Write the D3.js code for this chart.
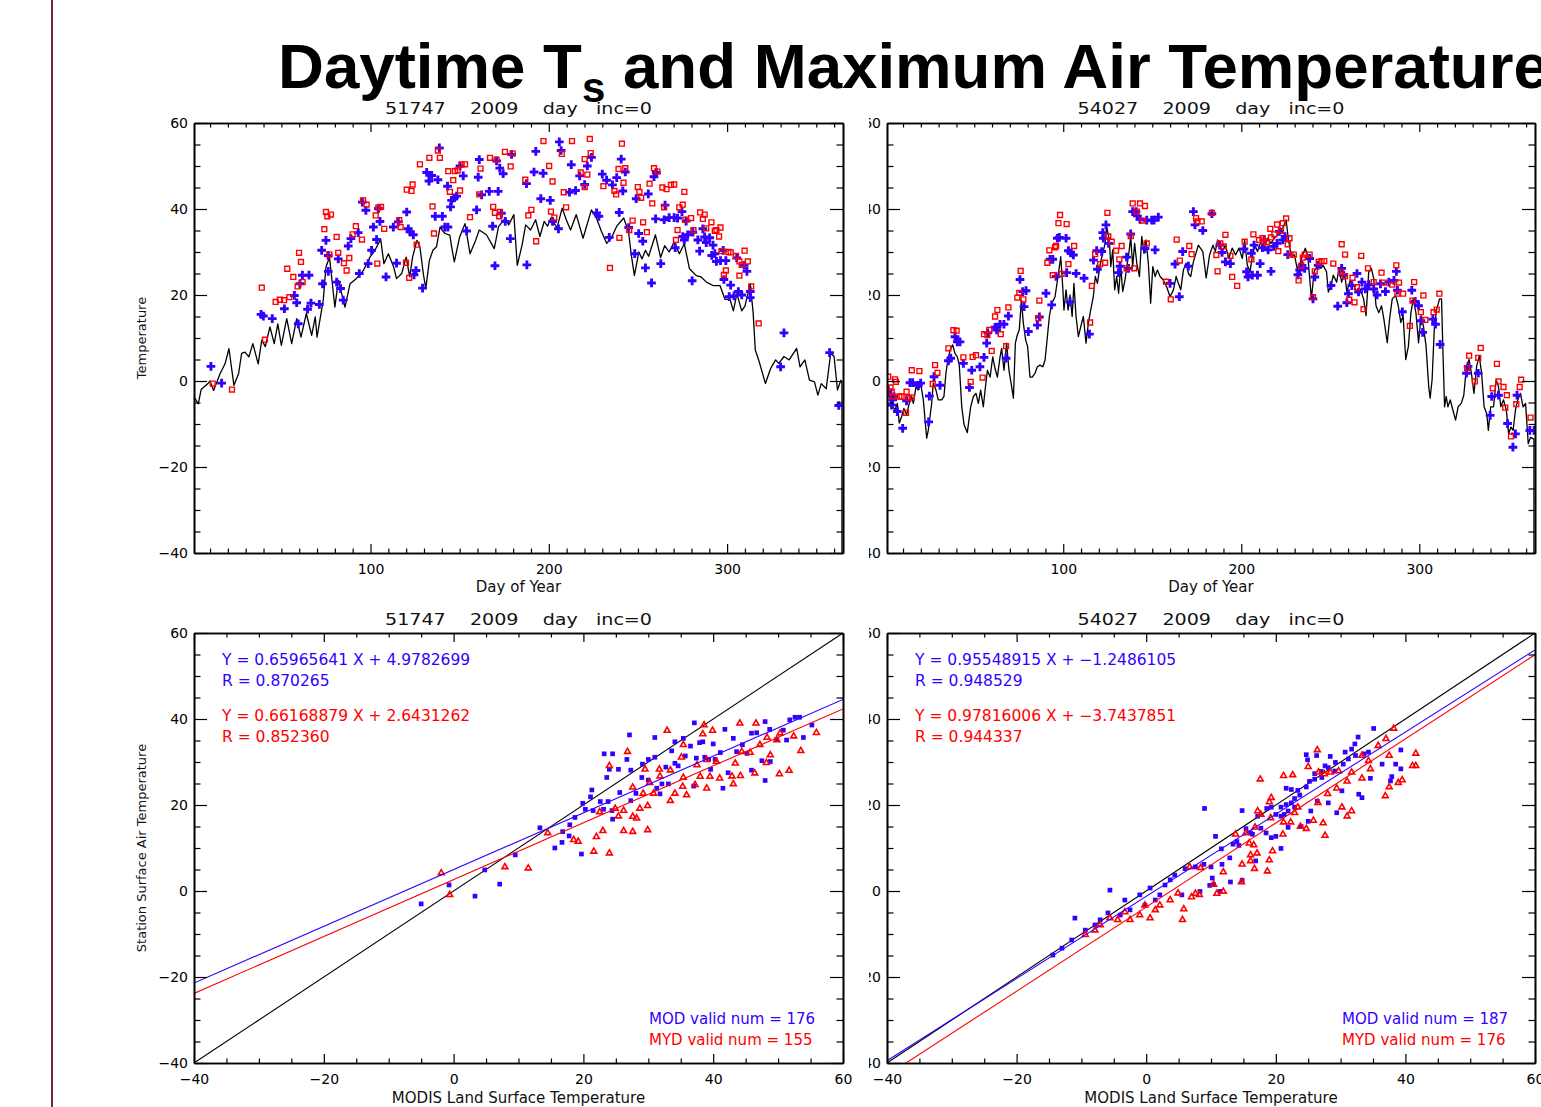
<!DOCTYPE html>
<html>
<head>
<meta charset="utf-8">
<script src="https://cdn.jsdelivr.net/npm/d3@7"></script>
<style>
body { margin: 0; background: #fff; overflow: hidden; }
</style>
</head>
<body>
<script>
// ---- data ----
const stations = ["51747", "54027"];
const year = "2009";
const dayTicks = [100, 200, 300];
const lstTicks = [-40, -20, 0, 20, 40, 60];
const tempTicks = [-40, -20, 0, 20, 40, 60];

// station daily max air temperature, [day, degC]  (-999 = missing)
const stnTmax51747 = [[1,-3.7],[3.4,-5.3],[5,-2],[9,-0.5],[10,0],[12,-2.2],[15.6,1.7],[18.4,4],[20.6,7.5],[23.4,-1],[26,1.7],[27.7,6.4],[29.6,6.7],[31.8,5.6],[34,8.7],[37,4],[39,9.5],[41,8],[43.6,12.6],[46,8.7],[48,13.3],[50,8.3],[53,14.5],[55.8,8.7],[58.6,14.5],[61,10.2],[64,15.7],[67,10.6],[69,14.9],[70,10.2],[73.5,18.8],[75,26.5],[77,28.8],[80,17.2],[82,23.4],[85.7,17.2],[88.5,22.6],[92,23.8],[96,25.7],[99.7,28.8],[102.5,30.4],[105.7,33],[107.5,27.3],[110,29.6],[113,26.5],[114.6,23.8],[117.5,25],[120,28.8],[122,24.2],[123.6,28.8],[126,32.7],[127.7,31.2],[129.6,25],[131,21.5],[133,28],[135,30.4],[137,31.2],[139,35.8],[141.7,34.3],[144.5,33.9],[145.5,31.2],[147,27.7],[150,33.5],[153,36.6],[155.8,29.6],[158.6,32.3],[161,35.1],[165,34],[169.4,30.8],[171.8,35.9],[175.6,37.9],[177.5,36.3],[180.4,38.7],[182.3,26.9],[185,31.6],[187,36.3],[189.8,35.1],[192.6,37.5],[195,33.6],[197.4,37.1],[199.3,36],[201.2,37.9],[204.6,35.6],[207.5,40.2],[209.8,37.5],[212.2,35.1],[215.4,38.7],[219.2,33.2],[223.9,39.8],[226.7,37.9],[229.6,34.7],[232.5,32],[235,33.2],[238.1,36],[242,37.9],[244.7,34.7],[246.3,29.2],[248,24.5],[250.5,30],[252.3,28.4],[254.2,30.4],[256,29],[259.8,34],[262.7,28.7],[265,31.5],[267.5,30],[270.3,32.3],[273.2,29.6],[276,31.9],[278.9,26.1],[282.7,24.5],[285.4,24.2],[288.4,23],[292.1,22.2],[296,22.2],[298.8,19],[301.6,19],[303.5,16.3],[305.5,20.3],[308.2,16.3],[310,17.4],[313,22.6],[314.6,15.9],[315.8,7.2],[317.7,4.9],[321.5,-0.6],[324.4,2.9],[327.2,4.9],[329,4.1],[331.9,5.7],[334.8,4.9],[339,7.6],[340.9,3.3],[343.6,4.9],[346.2,0.2],[349,-0.2],[350.9,-3.3],[352.8,-0.6],[355.6,-1.8],[358.1,6.5],[360,5.7],[361.9,-2.1],[363.8,0.2],[364.4,-0.6],[364.6,-999]];

const stnTmax54027 = [[1,-1.7],[2.7,-4.4],[4.2,-6],[5.5,-6.7],[6.8,-5.2],[7.9,-9.8],[9.2,-8.3],[10.5,-6.4],[12,-7.9],[13.5,-5.2],[14.9,-3.6],[15.8,-5.2],[17.3,-1.3],[18.6,-2.1],[19.9,-0.5],[21.4,-4.4],[23.3,-13.3],[24.2,-11.4],[26.1,-5.2],[27,-0.5],[28.5,-2.1],[29.8,-4.4],[31.7,-4.4],[33,-3.6],[34.1,1.8],[34.9,4.1],[36.4,7.2],[37.9,8.4],[39.2,6.4],[40.5,5.6],[41.6,3.7],[43,-6],[44.3,-10.2],[46.1,-12],[48,-6],[49.5,-3.6],[51,-2.9],[52.3,-5.2],[53.6,-2.1],[55.1,-6],[56.1,-2.1],[57.4,2.5],[58.9,0.9],[60.4,5.6],[61.7,2.9],[63,0.9],[64.5,5.6],[65.4,7.6],[66.7,2.5],[68.2,8.8],[69.5,2.5],[70.7,-0.5],[72,-4],[73.1,8.8],[74.2,10.7],[75.3,11.9],[76.5,18.8],[77.6,13.4],[78.9,9.5],[80,8],[81.3,0.9],[82.6,0.9],[84.1,1.8],[85.5,3.3],[87,3.7],[88.5,3.3],[89.8,4.9],[91.1,10.3],[92.2,15],[93.5,18],[95.4,19.6],[97.3,25],[98.6,28.9],[99.7,21.9],[100.4,16.5],[101.6,21.2],[102.7,16.5],[103.8,20],[105,15],[106,22.7],[107.2,15],[108.5,10.3],[109.8,12.6],[111.3,15],[112.8,8.8],[114.1,13.4],[115.4,16.5],[116.9,19.6],[118,24.3],[119.2,22.7],[120.3,25.8],[121,27.7],[122.2,29.7],[123.5,32],[124.4,35.9],[125.9,32.8],[126.7,26.6],[127.8,30.5],[128.9,21.2],[130,24.3],[131.1,20.4],[132.3,26.6],[133.4,20.8],[134.7,23.5],[136,27.4],[137.1,30.5],[137.9,33.6],[139,26.6],[140.1,32],[141.3,27.4],[142.8,24.3],[144.1,33.6],[145.4,29.7],[146.5,32.8],[147.8,27.4],[149.1,18.1],[150.3,26.6],[151.6,24.3],[152.9,25.8],[154.4,24.3],[156.2,23.5],[158.1,21.9],[160,19.6],[161.9,21.2],[163.4,24.3],[164.7,22.7],[166,21.2],[167.5,25.8],[169,27.4],[170.3,25],[171.6,24.3],[173.1,27.7],[175.9,31.6],[178.4,30.1],[180.3,24],[182.2,29.3],[184.1,31.6],[185.4,30.1],[186.7,32.8],[189.2,30.1],[191.1,31.6],[193,28.5],[194.9,30.9],[196.8,29.3],[198.7,30.9],[200.6,28.5],[201.9,32.8],[203.4,26.9],[204.9,25.4],[206.2,28.9],[207.6,31.6],[209.1,30.1],[211,32.4],[212.9,30.9],[214.8,33.2],[216.7,32],[218.6,33.2],[220.1,34],[221.4,34.8],[223.3,35.6],[225.2,37.5],[226.5,32.8],[228,29.3],[229.9,29.3],[231.4,26.2],[232.8,26.9],[234.1,28.9],[236,30.9],[237.5,28.5],[239.4,19.1],[240.9,25.4],[242.8,26.9],[244.7,26.2],[246,26.9],[247.9,25.4],[248.9,20.7],[250.4,22.2],[251.7,24.6],[253.6,23],[254.9,26.2],[256.4,23],[258,25.4],[259.3,20.7],[261.2,23.4],[263.1,22.2],[265,20.7],[266.8,21.4],[268.7,19.1],[270.1,15.2],[271.6,25.4],[273.1,26.2],[274.4,23.8],[275.7,17.5],[277.3,15.9],[278.8,17.5],[280.1,14.4],[282,8.9],[283.3,14.4],[284.8,19.1],[286.7,19.9],[288.2,17.5],[289.6,13.6],[290.9,15.2],[292.4,5],[293.9,8.1],[295.3,15.9],[296.6,19.1],[298.1,15.9],[299.6,8.9],[301,15.2],[302.3,12.8],[303.8,8.1],[305.3,-1.3],[306.1,-4],[307.2,0.3],[308.5,12.8],[309.8,16.7],[311.4,19.1],[312.5,19.1],[313.2,8.1],[314.2,-6],[315.1,-3.6],[316.1,-6],[317.4,-4.4],[318.9,-6.8],[320.4,-9.1],[321.8,-6],[323.6,-5.2],[325,-3.3],[326.5,3.4],[328,5],[329.3,1.8],[330.7,-2.9],[332.2,3.4],[333.7,5.8],[335,1.8],[336.4,-6],[337.9,-7.6],[338.8,-11.5],[340.1,-6],[341.7,-6],[343.2,0.3],[344.5,-1.3],[345.8,-6],[347.3,-4.4],[348.9,-6.8],[350.2,-12.3],[351.5,-10.7],[352.7,-11.5],[354,-6.8],[355.3,-4.4],[356.8,-2.9],[358.3,-6],[359.7,-5.2],[361.2,-14.6],[362.5,-13.1],[364.4,-13.5],[364.6,-999]];

// MODIS Terra (MOD) and Aqua (MYD) daytime Ts, [day, degC]
const modTs51747 = [[10.5,3.4],[16.5,-0.5],[38.6,15.5],[39.9,15.1],[44.9,14.5],[51.7,16.8],[57.3,19.9],[58.6,18.2],[59.5,13.3],[60.4,22.6],[61.8,24.6],[65.5,24.6],[64.7,16.7],[66.6,18.1],[71.3,17.8],[73.1,22.6],[75,32.7],[76.3,25.5],[72.6,30.4],[76.3,29.2],[81,23],[81.9,28.4],[83.2,21.5],[84.7,18.8],[87.5,31.4],[89,33.1],[93.1,34.5],[93.7,25],[95.4,41.6],[97.4,39.7],[98.7,27.3],[100.6,30.4],[101.6,35.8],[103.4,32.9],[104.4,40.1],[105.3,37.1],[108.7,24.2],[112.8,35.8],[114.6,27.4],[115.6,37],[120.3,39.3],[121.2,35.4],[122.1,34.7],[124.4,24.7],[124,34],[125.5,25.7],[129.2,21.6],[131.5,48.5],[132.8,46.5],[134.3,47.8],[136.3,38.3],[137.8,46.8],[138.6,54.2],[140.3,38.3],[141.7,35.8],[143.4,35.8],[143.2,45.3],[144.9,40.5],[145.5,42],[147,42.6],[148.3,43],[150.2,50],[152,47.7],[153.9,34.9],[159.5,39.8],[160.4,47.4],[161,51.5],[162.3,43.3],[166.6,44.1],[168.5,36],[169.8,26.8],[170.7,51.2],[171.6,44.1],[172.5,49.5],[173.4,39],[174.4,48.2],[175.6,37.1],[178.4,33.1],[179.1,52.7],[187.7,27],[187.5,45.9],[192.7,53.4],[191.7,48.6],[196.8,48.3],[195.5,42.4],[200.8,42],[205.9,55.6],[206.9,53.6],[205.4,35.4],[202.1,37.1],[212.6,50.3],[211.6,43.9],[215,44.3],[217.3,47.7],[220.1,45.7],[221.6,50],[223.9,52],[226.8,39.1],[228.1,38.3],[230,48.1],[232.4,46.7],[233.9,33.4],[235.7,45.6],[238.1,47.3],[239.5,39.2],[240.6,51.6],[241.5,44.2],[242.9,48.6],[244.8,35.7],[248.2,29.6],[249,42.4],[250.4,34.3],[252.7,32.5],[254.2,26.3],[255.8,43.5],[257.6,22.8],[259,47.5],[259.9,37.7],[260.3,48.5],[262.8,27.3],[264.7,37.5],[265.2,40.9],[267.5,38],[270.3,38],[270.9,31],[272.2,37.9],[274.7,39.4],[276,32.8],[275.1,33.6],[277,37.2],[277.9,34],[280.4,23.3],[280.8,34.6],[283.6,32.8],[284.6,30.2],[286.4,35.4],[287.4,33.5],[288.3,32.2],[290.2,33.3],[291.4,29.2],[292.1,31.6],[294,27.8],[293.1,29.6],[296.3,28],[297.8,30.4],[298.2,23.6],[299.3,28],[301.2,19.6],[302,22.3],[303.9,19.8],[305.4,28.6],[306.3,20.8],[308.2,20],[309.6,26.9],[311.1,25.5],[313,20.8],[313,19.4],[331.9,11.2],[330,3.3],[357.5,6.6],[362.6,-5.7]];

const mydTs51747 = [[11.5,-0.6],[22.3,-2],[39,21.7],[40.8,9.6],[46.8,18.4],[49.2,18.9],[51.5,18.8],[53.3,26.1],[54.5,19.5],[56.7,24.2],[59.1,22],[59.9,29.8],[61,27.7],[61.9,23],[74.1,35.3],[75,39.3],[75.8,38.3],[77.8,38.7],[76.9,29.4],[81,33.5],[81.9,29.8],[85.1,27.4],[86.6,25.7],[88.1,28.6],[90,34.1],[91.8,36],[95.2,32.9],[95.8,42],[97.8,41],[102.9,38.5],[103.8,27.3],[104.4,40.3],[105.9,40.5],[107.7,35.4],[116.1,37.4],[116.9,35.8],[119.9,27.5],[121.7,24],[120.3,44.5],[123,44.2],[123.6,45.7],[125.9,31.7],[127.7,50.4],[133,51.9],[134.8,40.6],[135.6,34.3],[137.8,53.6],[138.9,51.9],[143.6,48.8],[144.5,44],[146.4,46.7],[147.4,48.8],[148.9,49],[150.2,44.3],[151.1,50.4],[153,50.4],[155.8,38.1],[161,43.4],[161.7,49.4],[167,51.9],[168.8,40.5],[169.8,39.1],[170.7,51.5],[172.2,38.3],[172.6,39.3],[175.4,53.3],[178.6,49.9],[179.7,52.9],[186.8,46.8],[188.5,38.5],[197,55.8],[200.2,50],[202.1,46.4],[190.2,39.8],[192.9,32.5],[201.2,39.4],[203.1,38],[207.3,52.8],[208.4,43.9],[209.7,40.4],[213,55.8],[217.9,48.5],[220.1,51.6],[221.6,48],[223,56.3],[223.5,53],[220.1,45.1],[230.6,45.3],[234.3,26.3],[236.8,44.2],[237.8,43.4],[239.1,49.3],[239.6,33.3],[241,55.2],[241.9,46.1],[242.9,49.5],[245.1,35.1],[247,37.3],[249.9,45.1],[250.8,44],[251.8,42.6],[252.9,36.9],[255,34.6],[256.5,45.9],[258,41.3],[259,49.5],[260.9,48.7],[263.7,45],[264.7,40.4],[266,44.6],[268.5,45.6],[270.3,45.7],[271.3,32.8],[272.2,35.1],[273.2,40.4],[275.1,41],[276,44],[276.6,37.5],[279.8,37.9],[281.1,35.1],[284.9,39.2],[286.4,37.7],[287.4,38.7],[288.3,35.5],[291.2,36.9],[293.1,34.9],[294,35.1],[296.3,35.7],[295.5,33.6],[296.9,30.2],[298.2,24.7],[299.3,25.7],[300.7,30],[302,29.9],[305,29.1],[306.9,27.8],[308.2,27],[309.8,30.3],[311.6,27.8],[306.9,24.5],[313.5,22],[317.7,13.4]];

const modTs54027 = [[1.7,-2.1],[3,-3.3],[4.2,-4.4],[3.6,-5.6],[4.9,-3.6],[6.8,-7.1],[9.8,-11],[12,-4.6],[13.9,-0.4],[15.4,-0.4],[18.6,-1],[19.9,-0.5],[24.4,-9.5],[24.8,-3.5],[27.4,1],[30.8,-1],[35.5,4.7],[36.8,5.3],[39.2,10.3],[40.5,9.1],[42,9.1],[43.9,4.1],[47.3,-1.5],[48.6,2.5],[53.2,3.3],[55.5,5.5],[57,8.8],[57.6,11.2],[61.7,12.5],[62.6,11.9],[64.5,13.2],[66.7,13.2],[67.9,5.3],[69.2,15.1],[75.7,23.6],[77.2,20.8],[78,17.3],[79.1,21],[80.4,11.5],[85.5,13],[86.6,14.9],[90.3,20.4],[92.6,28.3],[94.1,28.3],[93.5,17.7],[96,24.3],[96.7,33.2],[97.8,33.4],[101.6,33.2],[101.9,25.2],[103.8,18.4],[102.9,30.3],[104.2,29.8],[105.7,29.3],[107.2,25],[111.7,23.9],[114.7,10.9],[117,28.1],[119.2,26],[118.8,30.3],[121.6,30.1],[122.2,34.5],[122.5,33.2],[124,36.3],[125.5,32],[131,25.2],[131.9,26.7],[135.6,28.8],[136.7,26.2],[137.9,34.2],[139,39.4],[140.9,39.4],[141.6,38.4],[143.1,37.6],[145.9,30.8],[146.9,37.4],[149.7,37.4],[151,37.4],[153.4,38.1],[151.6,30.5],[160,22.7],[162.8,27.2],[165.2,19.6],[167.1,30.1],[170.3,26.7],[173.1,39.4],[174,36.3],[178.4,35],[189.2,29.9],[187.9,31.6],[183.5,38.9],[191.1,27.7],[193.9,27.3],[201.5,30.7],[203,25.4],[203.8,24.2],[206.2,24.6],[209.1,24.6],[205.7,29.7],[207.2,31.6],[210.6,27.3],[211.9,31],[212.9,32.8],[215.1,30.5],[216.7,25.5],[218.2,31.3],[220.1,32],[221.4,34.8],[223.3,32.8],[224.6,33.6],[226.1,29.4],[231.8,24.7],[232.8,25.8],[234.1,26.9],[235.6,26.2],[238.4,28.5],[240.3,19.1],[241.3,24.2],[243.2,26.9],[250.4,22.2],[254.2,17.4],[256.4,26.2],[257.4,24.6],[259.3,18.2],[260.2,20.3],[262.1,22.2],[265,25],[265.9,20.7],[267.8,23],[269.7,21.4],[271.6,22.4],[274.4,21.4],[276.3,20],[278.2,22.6],[281,20.8],[282.9,23],[285.8,23.4],[287.1,25.5],[287.7,21.1],[290.5,16.1],[295.8,21.1],[297.7,18.5],[299.6,17.5],[300.9,14],[301.9,11.3],[307.6,14.4],[309.1,13.2],[311.7,8.5],[326.5,1.8],[327.4,3.4],[333.1,1.8],[339.8,-8],[340.7,-3.6],[344.5,-3.3],[349.6,-9.9],[352.6,-15.4],[354,-12.3],[354.9,-3.3],[362.1,-11.5],[364.5,-11.5]];

const mydTs54027 = [[1.7,1],[3,-1.5],[3.6,-2.5],[4.2,-3.6],[5.5,0.4],[6,-0.2],[7.9,-3.6],[9.2,-3.6],[12,-2.5],[13,-4],[14.9,-3.8],[11.7,-7.4],[14.9,2.5],[19.2,2.3],[26.7,-0.7],[28,3.7],[29.3,1.9],[35.5,7.6],[38.3,11.8],[40.1,11.7],[43.9,5.5],[49.1,5.6],[51,6],[48,-0.2],[54.7,0.8],[55.5,10.9],[57.4,10.7],[58.5,11.9],[59.8,7],[61.7,15],[63,16.5],[64.9,10.9],[67.9,8.1],[69.2,17.1],[74.2,19.4],[75.3,20.5],[76.1,25.6],[77.6,19],[86.6,18.7],[86,14.6],[91.1,27.5],[92.2,30.4],[94.1,24.6],[95.4,31.1],[96,31.4],[97.3,36.7],[98.2,38.6],[99.1,24.9],[101.9,36.5],[102.9,27.2],[106.1,31.4],[115.1,13.6],[116.1,22.1],[117.9,29.5],[120.7,27.2],[123.5,27.5],[124.8,39.1],[125.3,33.6],[127.2,32.4],[129.7,30.3],[131.5,28.3],[132.8,31.4],[135.6,26.2],[137.9,33.7],[139,41.3],[139.8,26.2],[141.3,39.4],[143.1,41.3],[144.6,37.3],[145.9,40.7],[146.9,32],[157.7,23.1],[160.4,19],[163.7,32.9],[165.5,28],[170.8,31.4],[172.1,29.5],[174.6,37.9],[175.4,37.1],[177.8,37.1],[183.5,39.1],[186,29.3],[186.7,25.5],[188.2,32],[190.1,31.3],[191.1,34],[193.9,29.1],[194.9,24.2],[197.7,22.1],[201.9,32.4],[205.7,28.3],[206.8,34.1],[210,32.8],[211.9,33.2],[212.5,32.4],[214.4,32.3],[216.3,35.4],[216.7,33.4],[218.6,34.1],[220.1,36.4],[220.8,30.2],[222.3,34.9],[223.3,36.7],[225.2,37.8],[226.1,31.8],[227.1,33.2],[227.6,29.4],[229.5,29.4],[232.2,23.4],[233.7,26.8],[234.6,28.7],[235.6,29.4],[238.4,29.4],[240.3,19.5],[241.3,25.5],[243.5,27.7],[245.1,27.9],[246.6,27.9],[251.7,27.3],[256.4,31.8],[258.3,29.4],[267.4,29.1],[256,25.4],[258.3,24.4],[260.6,18.9],[263.6,18.3],[262.5,24],[265,21.8],[268.7,16.7],[271.2,26.2],[274.4,23],[278.8,25.2],[280.1,22.9],[284.8,22.4],[287.1,26.9],[288.6,22.9],[290.9,20.3],[287.7,20.3],[294.7,12.8],[296.2,18.7],[297.1,23],[300.9,16],[302.3,19.9],[303.4,14.2],[308,16],[309.8,16.6],[311.3,20.3],[328,5.9],[326.9,3],[331.2,-0.1],[333.1,5.4],[334.5,7.7],[341.3,-1.7],[343.6,4],[344.5,-0.1],[347.3,-1.4],[348.3,-6.2],[349.2,-3.3],[351.5,-12.9],[354.5,-5.4],[356.4,-1.4],[357.2,0.3],[362.5,-8.5]];

// scatter pairs: [MODIS LST, station air temperature]
const modPairs51747 = [[37.1,39.1],[27.1,36.3],[23.2,31.9],[24.5,31.9],[26.7,30.6],[27.3,28.1],[25.4,28.3],[24,28.3],[23.6,26.4],[21.3,23.5],[21.1,21.9],[22.6,20.8],[23.8,20.8],[24.4,18.7],[24.5,16.7],[23.1,19],[21.5,18.7],[20.3,19],[19.9,20.4],[18.7,17.1],[17.9,15.4],[16.8,13.8],[16.7,11.3],[17.8,12.8],[19.7,8.6],[25.6,22.9],[27.3,21],[28.1,22.7],[29.1,29.5],[30,30.6],[29,26.4],[30,25.8],[31,31.1],[31.3,23.9],[31.8,22.6],[32.1,24.9],[32.7,28.8],[33.1,24.9],[33.6,32.6],[34.1,29.7],[34.6,29.1],[35.4,35.5],[35.7,31.4],[36.5,33.7],[37,24.4],[37.4,30.9],[37.9,34.5],[38.4,34.7],[38.7,31.1],[39.3,30.6],[39.6,28.3],[40.3,30.6],[41.1,32.2],[41.5,23.9],[41.8,37.6],[42.3,27.5],[43.1,35.5],[43.6,32.4],[44.5,34],[45.2,32],[45.9,28.1],[45.9,36.7],[46.7,36.8],[47.5,30.3],[48,39.4],[48,25.7],[48.8,30.1],[48.7,37.6],[49.8,35.3],[50.8,37.4],[51.3,35.1],[51.8,39.8],[52.6,40.4],[53.3,40.4],[53.9,35.7],[55.2,38.6],[40,34.2],[34.1,34.7],[31,35.7],[-5,-3],[-0.7,1.4],[3.3,-1.2],[4.8,4.9],[7.1,1.6],[9.5,8.4],[13.3,14.7],[15.6,10]];

const mydPairs51747 = [[38.6,38.6],[44.1,39],[46.6,39],[32.9,37.3],[39.9,37.3],[38.4,36.5],[35.4,34],[26.8,32.4],[24,29.1],[29.5,28.3],[31.7,28.3],[33.4,28.1],[35.1,31.1],[37.5,29.3],[39,30.5],[40.5,30.1],[43.4,29.7],[44.4,32.4],[45.7,32.2],[47.2,34],[48.3,35.7],[49.8,35.1],[50.3,36.7],[52.4,36],[55.9,36.8],[53.5,32.6],[51.7,28],[50.2,27.2],[48.8,31.6],[46.4,27.4],[44.2,26.8],[42.9,26.7],[41,26.2],[39.5,26.6],[38,26.6],[39,23.9],[37.2,24.7],[35.3,24.3],[35.9,22.3],[34.1,22.7],[33.4,21],[35.4,26.4],[31.8,26.7],[30.2,25.2],[27.6,24.1],[29.2,22.7],[30.8,22.7],[29.9,19.8],[28.7,19.2],[28.2,16.9],[27.6,17.3],[26.2,18.7],[25.4,17.4],[24.9,19.2],[23,14],[22,12.6],[26.2,14],[27.6,13.8],[29.9,14.2],[24,8.8],[21.6,9.2],[19.2,11.5],[18.5,11.9],[22.5,18.4],[43.1,24.9],[48.2,29.8],[-1.9,4.2],[-0.6,-0.9],[7.9,5.6],[11.5,5.3],[14.5,13.5]];

const modPairs54027 = [[35.1,37.8],[32.7,35.8],[32.2,34.2],[31.7,33],[30.7,32.3],[31.2,30.7],[32.3,31.5],[33.6,31.9],[34.3,32.3],[24.7,31.7],[24.9,30.5],[26.3,31.5],[28.4,31.3],[29.2,29.9],[30.4,29.5],[27.6,29.1],[28.1,28.7],[29.1,27.9],[27,27.8],[26,27.3],[27.1,26.4],[26,26],[25.2,25.5],[24.7,24.2],[23.4,23.4],[23.7,22.3],[22.9,21.5],[22.4,20.5],[21.6,20.1],[20.8,19.5],[21.3,17.8],[21.9,18.6],[22.9,19.5],[22.4,23.6],[21.6,23.9],[30.2,23.3],[32.8,22.5],[33.3,21.7],[34.6,26.2],[36.4,29.5],[37.9,26.6],[37.7,25.6],[38.5,29.5],[39.3,32.8],[39.3,28.4],[28.1,20.5],[29.4,18.2],[26.4,20.9],[25.4,18.6],[23.9,15],[25,16.2],[21.9,14.8],[20.8,17.4],[20,17.8],[19.3,19.5],[18.6,19.2],[17.2,17.4],[17.7,14.6],[18.5,13.5],[19.3,12.4],[20,12.7],[20.8,9.9],[16.9,7],[16.1,13.5],[15.4,14.5],[14.8,18.7],[9,19.2],[14,11.5],[13.4,10.9],[14.3,10.6],[12.9,7.7],[11.7,6.2],[11.6,9.8],[10.7,12.7],[10.2,3],[10.4,1.5],[9.8,1.3],[11.4,-0.1],[13,2.1],[14.8,2.5],[10,5.6],[8.9,6.2],[7.6,5.6],[6,5.2],[8.3,-0.1],[5.5,-0.9],[16.4,13.2],[-5.6,0.2],[-11,-6.3],[-11.5,-11.4],[-14.4,-14.9],[-13,-13.3],[-9.4,-9.1],[-7.9,-7.9],[-7.1,-6.7],[-5.9,-5.1],[-4,-5.6],[-3.3,-2.1],[-2.5,-4.4],[-1,-0.9],[-0.2,-3.3],[0.6,0.7],[1.4,-2.1],[2.1,-0.9],[2.9,1.4],[3.7,2.6],[4.4,3.7]];

const mydPairs54027 = [[38.2,37.8],[41.6,32],[41.1,29.1],[41.6,29.1],[39.5,25.8],[38.9,25.2],[37.5,24.2],[36.9,22.1],[34.6,28.4],[34.3,30.3],[33.3,31.5],[35.8,33.8],[37,35.4],[37.5,31.5],[26.4,32.8],[25,28.9],[26.6,27.6],[27.5,27.2],[28.4,27.6],[29.7,27.9],[31.7,27.6],[33.3,26.2],[31,25.5],[29.4,23.9],[28,22.6],[30.2,19.5],[31,17.4],[31.7,18.6],[26.5,20.5],[25.8,16.4],[24.7,14.5],[23.8,15],[22.9,18.2],[23.4,19.5],[22.6,27],[21.2,26.8],[19.3,21.7],[19,20.7],[17.2,18.6],[17.7,17.8],[22.3,16],[21.2,16],[19.2,17],[16.8,14.8],[15.4,13.5],[13.8,13.2],[15.9,11.1],[16.6,10.7],[17.1,8.8],[16.1,8.4],[16.1,7],[19,7.2],[19.5,9.3],[21.1,13.2],[27.6,12.9],[27.3,15.8],[14.8,6.2],[16.7,5.2],[18.7,4.6],[14.7,2.1],[11.9,4.4],[10.4,1.5],[11.9,-0.1],[10.9,-0.6],[8.4,5.4],[6.7,5.6],[7.6,-0.6],[8.2,-0.9],[7,-1.4],[5.8,-4.2],[5.6,-6.7],[17.6,26],[-9.4,-10.2],[-7.9,-9.1],[-7.1,-7.9],[-5.6,-6.3],[-4.4,-6.7],[-3.3,-4.9],[-2.5,-6.7],[-1,-5.6],[-0.2,-3.3],[0.6,-6.3],[1.4,-4.4],[2.1,-3.3],[3.7,-2.1],[4.9,-0.5]];

// linear fits: [slope, intercept], correlation and valid counts
const modFit = [[0.65965641, 4.9782699], [0.95548915, -1.2486105]];
const mydFit = [[0.66168879, 2.6431262], [0.97816006, -3.7437851]];
const modR = ["0.870265", "0.948529"];
const mydR = ["0.852360", "0.944337"];
const modNum = [176, 187];
const mydNum = [155, 176];

// ---- drawing ----
const W = 1541, H = 1107;
const BLUE = "#3300ff", RED = "#ff0000";
const FONT = "DejaVu Sans, sans-serif";

const svg = d3.select("body").append("svg")
    .attr("width", W)
    .attr("height", H)
    .style("display", "block");

const defs = svg.append("defs");

// left slide rule
svg.append("line")
    .attr("x1", 52).attr("x2", 52)
    .attr("y1", 0).attr("y2", H)
    .attr("stroke", "#7a1f45")
    .attr("stroke-width", 2);

// slide title
const title = svg.append("text")
    .attr("x", 278)
    .attr("y", 88)
    .attr("font-family", "Liberation Sans, Arial, sans-serif")
    .attr("font-weight", "bold")
    .attr("font-size", 63.6)
    .attr("fill", "#000");
title.append("tspan").text("Daytime T");
title.append("tspan").attr("font-size", 42).attr("dy", 14).text("s");
title.append("tspan").attr("dy", -14).text(" and Maximum Air Temperature");

const boxes = [
    {x0: 194, x1: 843, y0: 123, y1: 553},   // top left
    {x0: 887, x1: 1535, y0: 123, y1: 553},  // top right
    {x0: 194, x1: 843, y0: 633, y1: 1063},  // bottom left
    {x0: 887, x1: 1535, y0: 633, y1: 1063}  // bottom right
];

function makeClip(id, x, y, w, h) {
    defs.append("clipPath").attr("id", id)
        .append("rect").attr("x", x).attr("y", y).attr("width", w).attr("height", h);
    return "url(#" + id + ")";
}

// IDL-style box: inward ticks on all four sides, labels on left and bottom
function frame(g, x, y, b, xMajor, xMinor, yMajor, yMinor) {
    const specs = [
        [d3.axisBottom(x).tickValues(xMajor).tickSize(-9).tickPadding(11), 0, b.y1],
        [d3.axisBottom(x).tickValues(xMinor).tickSize(-4.5).tickFormat(""), 0, b.y1],
        [d3.axisTop(x).tickValues(xMajor).tickSize(-9).tickFormat(""), 0, b.y0],
        [d3.axisTop(x).tickValues(xMinor).tickSize(-4.5).tickFormat(""), 0, b.y0],
        [d3.axisLeft(y).tickValues(yMajor).tickSize(-13).tickPadding(6), b.x0, 0],
        [d3.axisLeft(y).tickValues(yMinor).tickSize(-6.5).tickFormat(""), b.x0, 0],
        [d3.axisRight(y).tickValues(yMajor).tickSize(-13).tickFormat(""), b.x1, 0],
        [d3.axisRight(y).tickValues(yMinor).tickSize(-6.5).tickFormat(""), b.x1, 0]
    ];
    specs.forEach(([axis, tx, ty]) => {
        const a = g.append("g")
            .attr("transform", "translate(" + tx + "," + ty + ")")
            .call(axis.tickSizeOuter(0))
            .attr("font-family", FONT)
            .attr("font-size", 14);
        a.select(".domain").attr("stroke", "#000").attr("stroke-width", 1.6);
        a.selectAll(".tick line").attr("stroke", "#000").attr("stroke-width", 1.2);
        a.selectAll(".tick text").attr("fill", "#000");
    });
}

function panelTitle(g, b, i, baseline) {
    g.append("text")
        .attr("x", (b.x0 + b.x1) / 2)
        .attr("y", baseline)
        .attr("text-anchor", "middle")
        .attr("font-family", FONT)
        .attr("font-size", 16)
        .attr("fill", "#111")
        .attr("textLength", 267)
        .attr("lengthAdjust", "spacingAndGlyphs")
        .style("white-space", "pre")
        .text(stations[i] + "    " + year + "    day   inc=0");
}

function axisTitle(g, x, y, txt, size, rotate) {
    const t = g.append("text")
        .attr("font-family", FONT)
        .attr("font-size", size)
        .attr("fill", "#111")
        .attr("text-anchor", "middle")
        .text(txt);
    if (rotate) t.attr("transform", "translate(" + x + "," + y + ") rotate(-90)");
    else t.attr("x", x).attr("y", y);
}

const crossSym = d3.symbol().type(d3.symbolCross).size(42)();
const squareSym = d3.symbol().type(d3.symbolSquare).size(24)();
const boxSym = d3.symbol().type(d3.symbolSquare).size(22)();
const triSym = d3.symbol().type(d3.symbolTriangle).size(15)();

function marks(g, data, x, y, path, fill, stroke, sw) {
    g.selectAll(null)
        .data(data)
        .enter()
        .append("path")
        .attr("d", path)
        .attr("transform", d => "translate(" + x(d[0]) + "," + y(d[1]) + ")")
        .attr("fill", fill)
        .attr("stroke", stroke)
        .attr("stroke-width", sw);
}

const stnSeries = [stnTmax51747, stnTmax54027];
const modSeries = [modTs51747, modTs54027];
const mydSeries = [mydTs51747, mydTs54027];
const modPairSeries = [modPairs51747, modPairs54027];
const mydPairSeries = [mydPairs51747, mydPairs54027];

const tempMinor = d3.range(-40, 61, 5).filter(v => !tempTicks.includes(v));

[0, 1].forEach(i => {
    // ---------- time series panel ----------
    const b = boxes[i];
    const g = svg.append("g");
    if (i === 1) g.attr("clip-path", makeClip("cutR" + i, 869, 0, W - 869, H));

    const x = d3.scaleLinear().domain([1, 365]).range([b.x0, b.x1]);
    const y = d3.scaleLinear().domain([-40, 60]).range([b.y1, b.y0]);

    const data = g.append("g")
        .attr("clip-path", makeClip("plotT" + i, b.x0, b.y0, b.x1 - b.x0, b.y1 - b.y0));

    const line = d3.line().x(d => x(d[0])).y(d => y(d[1]));
    data.append("path")
        .datum(stnSeries[i])
        .attr("d", line)
        .attr("fill", "none")
        .attr("stroke", "#000")
        .attr("stroke-width", 1.3)
        .attr("stroke-linejoin", "round");

    marks(data, modSeries[i], x, y, crossSym, BLUE, "none", 0);
    marks(data, mydSeries[i], x, y, squareSym, "none", RED, 1.4);

    const dayMinor = d3.range(10, 365, 10).filter(v => !dayTicks.includes(v));
    frame(g, x, y, b, dayTicks, dayMinor, tempTicks, tempMinor);
    panelTitle(g, b, i, 114);
    axisTitle(g, (b.x0 + b.x1) / 2, 592, "Day of Year", 15, false);
    if (i === 0) axisTitle(g, 146, (b.y0 + b.y1) / 2, "Temperature", 13, true);

    // ---------- scatter panel ----------
    const s = boxes[i + 2];
    const h = svg.append("g");
    if (i === 1) h.attr("clip-path", makeClip("cutS" + i, 869, 0, W - 869, H));

    const sx = d3.scaleLinear().domain([-40, 60]).range([s.x0, s.x1]);
    const sy = d3.scaleLinear().domain([-40, 60]).range([s.y1, s.y0]);

    const sd = h.append("g")
        .attr("clip-path", makeClip("plotS" + i, s.x0, s.y0, s.x1 - s.x0, s.y1 - s.y0));

    const ends = sx.domain();
    sd.append("line")
        .attr("x1", sx(ends[0])).attr("y1", sy(ends[0]))
        .attr("x2", sx(ends[1])).attr("y2", sy(ends[1]))
        .attr("stroke", "#000").attr("stroke-width", 1.1);

    marks(sd, modPairSeries[i], sx, sy, boxSym, BLUE, "none", 0);
    marks(sd, mydPairSeries[i], sx, sy, triSym, "none", RED, 1.6);

    [[modFit[i], BLUE], [mydFit[i], RED]].forEach(([f, c]) => {
        sd.append("line")
            .attr("x1", sx(ends[0])).attr("y1", sy(f[0] * ends[0] + f[1]))
            .attr("x2", sx(ends[1])).attr("y2", sy(f[0] * ends[1] + f[1]))
            .attr("stroke", c).attr("stroke-width", 1.1);
    });

    frame(h, sx, sy, s, lstTicks, d3.range(-40, 61, 5).filter(v => !lstTicks.includes(v)),
        tempTicks, tempMinor);
    panelTitle(h, s, i, 625);
    axisTitle(h, (s.x0 + s.x1) / 2, 1103, "MODIS Land Surface Temperature", 15, false);
    if (i === 0) axisTitle(h, 146, (s.y0 + s.y1) / 2, "Station Surface Air Temperature", 13, true);

    const fmt = v => String(v).replace("-", "\u2212");
    const notes = [
        ["Y = " + modFit[i][0] + " X + " + fmt(modFit[i][1]), BLUE, 665],
        ["R = " + modR[i], BLUE, 686],
        ["Y = " + mydFit[i][0] + " X + " + fmt(mydFit[i][1]), RED, 721],
        ["R = " + mydR[i], RED, 742]
    ];
    notes.forEach(([t, c, yy]) => {
        h.append("text")
            .attr("x", s.x0 + 28).attr("y", yy)
            .attr("font-family", FONT).attr("font-size", 15.5)
            .attr("fill", c).text(t);
    });
    [["MOD valid num = " + modNum[i], BLUE, 1024], ["MYD valid num = " + mydNum[i], RED, 1045]]
        .forEach(([t, c, yy]) => {
            h.append("text")
                .attr("x", s.x0 + 455).attr("y", yy)
                .attr("font-family", FONT).attr("font-size", 15)
                .attr("fill", c).text(t);
        });
});
</script>
</body>
</html>
